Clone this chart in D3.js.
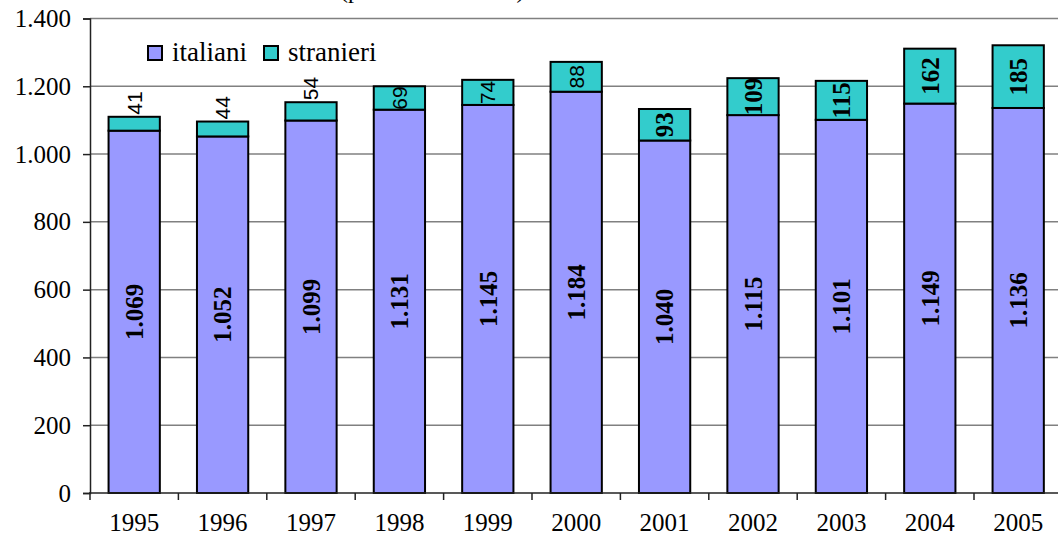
<!DOCTYPE html>
<html lang="it">
<head>
    <meta charset="UTF-8">
    <title>italiani-stranieri</title>
    <style>
        body {
            margin: 0;
            background: #fff;
        }
    </style>
    <script src="https://d3js.org/d3.v7.min.js"></script>
</head>
<body>

<script>

    let years = ["1995", "1996", "1997", "1998", "1999", "2000", "2001", "2002", "2003", "2004", "2005"]
    let italiani = [1069, 1052, 1099, 1131, 1145, 1184, 1040, 1115, 1101, 1149, 1136]
    let stranieri = [41, 44, 54, 69, 74, 88, 93, 109, 115, 162, 185]
    let yTicks = [0, 200, 400, 600, 800, 1000, 1200, 1400]
    let seriesNames = ["italiani", "stranieri"]

    let colItaliani = "#9999ff"
    let colStranieri = "#33cccc"
    let gridColor = "#808080"
    let serif = "'Liberation Serif', 'Times New Roman', serif"
    let sans = "'Liberation Sans', Arial, sans-serif"
    let width = 1058;
    let height = 537;

    let fmt = d3.formatLocale({decimal: ",", thousands: ".", grouping: [3], currency: ["", ""]}).format(",d")

    let svg = d3.select("body").append("svg")
        .attr("width", width)
        .attr("height", height)
        .attr("font-family", serif)

    let x = d3.scaleBand()
        .domain(years)
        .range([90, 1062.4])

    let y = d3.scaleLinear()
        .domain([0, 1400])
        .range([493, 18.5])

    let barW = x.bandwidth() * 0.58

    // title (only the bottom of it is visible)
    svg.append("text")
        .attr("x", 340)
        .attr("y", -2)
        .attr("font-size", 24)
        .text("(per 1.000 abitanti)")

    // gridlines
    svg.append("g")
        .selectAll("line")
        .data(yTicks.filter(d => d > 0))
        .enter()
        .append("line")
        .attr("x1", 90)
        .attr("x2", width)
        .attr("y1", d => y(d))
        .attr("y2", d => y(d))
        .attr("stroke", gridColor)
        .attr("stroke-width", 1.5)

    // y axis
    let yAxis = svg.append("g")
        .attr("transform", "translate(90,0)")
        .call(d3.axisLeft(y).tickValues(yTicks).tickSize(7).tickPadding(12).tickFormat(fmt))
    yAxis.attr("font-family", serif)
    yAxis.selectAll("text").attr("font-size", 25).attr("fill", "#000")
    yAxis.select(".domain").attr("stroke", "#222").attr("stroke-width", 1.5)
    yAxis.selectAll(".tick line").attr("stroke", "#222").attr("stroke-width", 1.5)

    // bars
    let data = years.map((yr, i) => ({year: yr, it: italiani[i], st: stranieri[i]}))

    let bars = svg.append("g")
        .selectAll("g")
        .data(data)
        .enter()
        .append("g")

    bars.append("rect")
        .attr("x", d => x(d.year) + (x.bandwidth() - barW) / 2)
        .attr("width", barW)
        .attr("y", d => y(d.it))
        .attr("height", d => y(0) - y(d.it))
        .attr("fill", colItaliani)
        .attr("stroke", "#000")
        .attr("stroke-width", 2)

    bars.append("rect")
        .attr("x", d => x(d.year) + (x.bandwidth() - barW) / 2)
        .attr("width", barW)
        .attr("y", d => y(d.it + d.st))
        .attr("height", d => y(d.it) - y(d.it + d.st))
        .attr("fill", colStranieri)
        .attr("stroke", "#000")
        .attr("stroke-width", 2)

    // x axis
    let xAxis = svg.append("g")
        .attr("transform", "translate(0,493)")
    xAxis.append("line")
        .attr("x1", 89)
        .attr("x2", width)
        .attr("stroke", "#222")
        .attr("stroke-width", 1.5)
    xAxis.selectAll(".xt")
        .data(years)
        .enter()
        .append("line")
        .attr("x1", d => x(d))
        .attr("x2", d => x(d))
        .attr("y1", 0)
        .attr("y2", 7)
        .attr("stroke", "#222")
        .attr("stroke-width", 1.5)
    xAxis.selectAll(".xl")
        .data(years)
        .enter()
        .append("text")
        .attr("x", d => x(d) + x.bandwidth() / 2)
        .attr("y", 38)
        .attr("text-anchor", "middle")
        .attr("font-size", 25)
        .text(d => d)

    // labels italiani
    bars.append("text")
        .attr("transform", d => "translate(" + (x(d.year) + x.bandwidth() / 2) + "," + ((y(d.it) + y(0)) / 2) + ") rotate(-90)")
        .attr("text-anchor", "middle")
        .attr("dy", "0.35em")
        .attr("font-size", 25)
        .attr("font-weight", "bold")
        .text(d => fmt(d.it))

    // labels stranieri: centred in the segment, above the bar when it is too short
    bars.append("text")
        .attr("text-anchor", "middle")
        .attr("dy", "0.35em")
        .attr("font-size", d => +d.year <= 2000 ? 21 : 25)
        .attr("font-family", d => +d.year <= 2000 ? sans : serif)
        .attr("font-weight", d => +d.year <= 2000 ? "normal" : "bold")
        .text(d => d.st)
        .each(function (d) {
            let len = this.getComputedTextLength()
            let top = y(d.it + d.st)
            let seg = y(d.it) - top
            let cy = seg >= len * 0.9 ? top + seg / 2 : top - 2 - len / 2
            d3.select(this).attr("transform", "translate(" + (x(d.year) + x.bandwidth() / 2) + "," + cy + ") rotate(-90)")
        })

    // legend
    let legend = svg.append("g")
    let legX = [148, 264]
    let legColors = [colItaliani, colStranieri]
    seriesNames.forEach(function (name, i) {
        legend.append("rect")
            .attr("x", legX[i])
            .attr("y", 46)
            .attr("width", 14)
            .attr("height", 14)
            .attr("fill", legColors[i])
            .attr("stroke", "#000")
            .attr("stroke-width", 2)
        legend.append("text")
            .attr("x", legX[i] + 24)
            .attr("y", 61)
            .attr("font-size", 27)
            .text(name)
    })

</script>

</body>
</html>
